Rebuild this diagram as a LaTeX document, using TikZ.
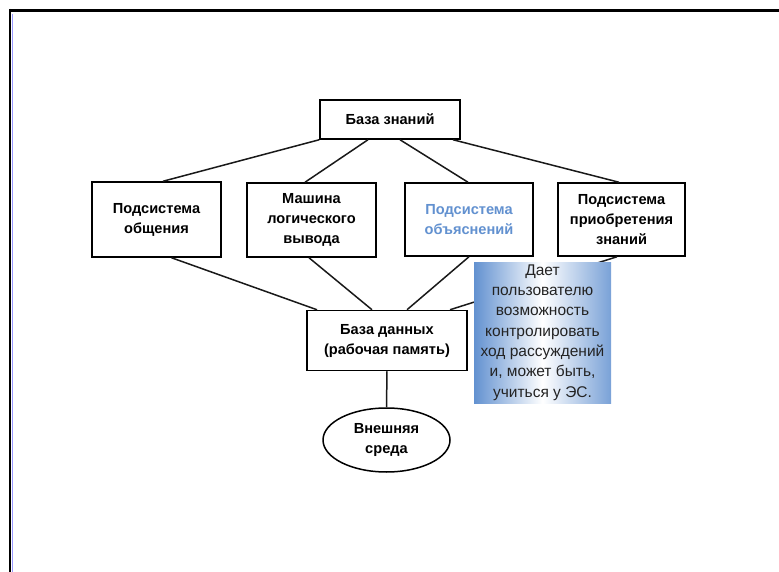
\documentclass[tikz,border=0pt]{standalone}
\usepackage{fontspec}
\setmainfont{Liberation Sans}
\usetikzlibrary{shapes,positioning,calc}
\definecolor{explblue}{RGB}{98,145,208}
\definecolor{notetext}{RGB}{35,35,35}

\begin{document}
\begin{tikzpicture}
[x=1pt,y=-1pt,
block/.style={shape=rectangle,draw,line width=1.5pt,fill=white,align=center,
  inner sep=2pt,font=\bfseries\fontsize{14.6}{20}\selectfont},
oval/.style={shape=ellipse,draw,line width=1.5pt,fill=white,align=center,
  inner sep=0pt,font=\bfseries\fontsize{14.6}{20}\selectfont},
note/.style={shape=rectangle,align=center,inner sep=0pt,text=notetext,
  left color=explblue,right color=explblue!85,middle color=white,
  font=\fontsize{15.5}{20.3}\selectfont},
link/.style={line width=1.5pt,black!90},
frame/.style={line width=2.6pt,black}]
%
\useasboundingbox (0,0) rectangle (779,572);
\draw[frame] (9,10.5) -- (779,10.5);
\draw[frame] (10,9) -- (10,572);
\draw[blue!40,line width=.5pt] (12,14) -- (12,572);
%
\node (kb) [block,minimum width=140,minimum height=39] at (390,119.5) {База знаний};
\node (s1) [block,minimum width=129,minimum height=75] at (156.5,219.5) {Подсистема\\общения};
\node (s2) [block,minimum width=129,minimum height=74] at (311.5,220) {Машина\\логического\\вывода};
\node (s3) [block,minimum width=128,minimum height=73,text=explblue] at (469,219.5) {Подсистема\\объяснений};
\node (s4) [block,minimum width=127,minimum height=73] at (621.5,219.5) {Подсистема\\приобретения\\знаний};
\node (db) [block,minimum width=160,minimum height=60] at (387,340.5) {База данных\\(рабочая память)};
\node (env) [oval,minimum width=127,minimum height=64] at (386.5,440) {Внешняя\\среда};
%
\draw[link] (kb.south west) -- ([xshift=6.5]s1.north);
\draw[link] ([xshift=-22]kb.south) -- ([xshift=-6.5]s2.north);
\draw[link] ([xshift=10]kb.south) -- ([xshift=-1]s3.north);
\draw[link] ([xshift=63]kb.south) -- ([xshift=-2.5]s4.north);
%
\draw[link] ([xshift=15]s1.south) -- ([xshift=-70]db.north);
\draw[link] ([xshift=-2.5]s2.south) -- ([xshift=-15]db.north);
\draw[link] (s3.south) -- ([xshift=20]db.north);
\draw[link] ([xshift=-4.5]s4.south) -- ([xshift=63]db.north);
%
\draw[link] (db.south) -- (env.north);
%
\node (expl) [note,minimum width=137,minimum height=141] at (542.5,332.5)
  {Дает\\пользователю\\возможность\\контролировать\\ход рассуждений\\и, может быть,\\учиться у ЭС.};
\end{tikzpicture}
\end{document}
